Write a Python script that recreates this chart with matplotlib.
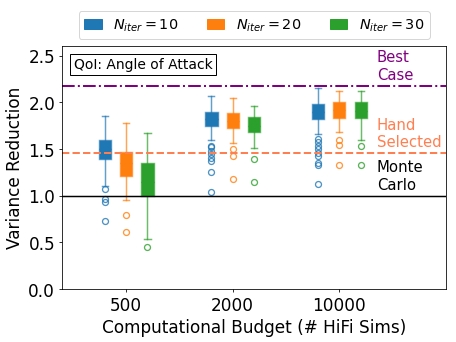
import matplotlib
matplotlib.use('Agg')
from matplotlib import pyplot as plt
from matplotlib.patches import Patch

budgets = ['500', '2000', '10000']
n_iters = [10, 20, 30]
colors = ['tab:blue', 'tab:orange', 'tab:green']

# box stats per N_iter, one entry per budget
# N_iter = 10
lo_10 = [1.10, 1.59, 1.66]
q1_10 = [1.39, 1.74, 1.82]
med_10 = [1.50, 1.82, 1.90]
q3_10 = [1.60, 1.89, 1.98]
hi_10 = [1.85, 2.07, 2.15]
fl_10 = [[1.07, 0.96, 0.93, 0.73],
         [1.53, 1.52, 1.48, 1.44, 1.40, 1.37, 1.25, 1.04],
         [1.61, 1.57, 1.53, 1.50, 1.46, 1.42, 1.35, 1.33, 1.12]]
# N_iter = 20
lo_20 = [0.95, 1.56, 1.68]
q1_20 = [1.21, 1.72, 1.83]
med_20 = [1.35, 1.80, 1.92]
q3_20 = [1.47, 1.88, 2.00]
hi_20 = [1.78, 2.05, 2.12]
fl_20 = [[0.79, 0.61],
         [1.50, 1.42, 1.18],
         [1.60, 1.54, 1.33]]
# N_iter = 30
lo_30 = [0.53, 1.51, 1.60]
q1_30 = [1.00, 1.68, 1.83]
med_30 = [1.15, 1.75, 1.91]
q3_30 = [1.35, 1.84, 2.00]
hi_30 = [1.67, 1.96, 2.12]
fl_30 = [[0.45],
         [1.39, 1.15],
         [1.53, 1.33]]

best_case = 2.177
hand_selected = 1.455
monte_carlo = 1.0

series = [(lo_10, q1_10, med_10, q3_10, hi_10, fl_10),
          (lo_20, q1_20, med_20, q3_20, hi_20, fl_20),
          (lo_30, q1_30, med_30, q3_30, hi_30, fl_30)]

plt.rcParams['font.size'] = 17
fig, ax = plt.subplots(figsize=(6.4, 4.8), dpi=71.4)
plt.subplots_adjust(left=0.136, right=0.976, bottom=0.155, top=0.863)

offsets = [-0.2, 0.0, 0.2]
for k, (lo, q1, med, q3, hi, fl) in enumerate(series):
    stats = []
    for i in range(len(budgets)):
        stats.append({'whislo': lo[i], 'q1': q1[i], 'med': med[i], 'q3': q3[i],
                      'whishi': hi[i], 'fliers': fl[i]})
    c = colors[k]
    ax.bxp(stats, positions=[i + 1 + offsets[k] for i in range(len(budgets))],
           widths=0.115, patch_artist=True, showfliers=True,
           boxprops=dict(facecolor=c, edgecolor=matplotlib.colors.to_rgba(c, 0.6), linewidth=1.5),
           whiskerprops=dict(color=c, alpha=0.7, linewidth=1.5),
           capprops=dict(color=c, alpha=0.7, linewidth=1.5),
           medianprops=dict(color=c, linewidth=1.5),
           flierprops=dict(marker='o', markerfacecolor='none', markeredgecolor=c,
                           markersize=6, markeredgewidth=1.3, alpha=0.8))

ax.axhline(best_case, color='purple', linestyle='-.', linewidth=2)
ax.axhline(hand_selected, color='coral', linestyle='--', linewidth=2)
ax.axhline(monte_carlo, color='black', linestyle='-', linewidth=1.5)
ax.text(3.35, best_case + 0.04, 'Best\nCase', color='purple', va='bottom', fontsize=15)
ax.text(3.35, hand_selected + 0.04, 'Hand\nSelected', color='coral', va='bottom', fontsize=15)
ax.text(3.35, monte_carlo + 0.04, 'Monte\nCarlo', color='black', va='bottom', fontsize=15)

ax.text(0.03, 0.955, 'QoI: Angle of Attack', transform=ax.transAxes, fontsize=14,
        va='top', ha='left', bbox=dict(boxstyle='square,pad=0.25', facecolor='white', edgecolor='black'))

ax.set_xticks([1, 2, 3])
ax.set_xticklabels(budgets)
ax.set_xlim(0.4, 4.0)
ax.set_ylim(0.0, 2.6)
ax.set_yticks([0.0, 0.5, 1.0, 1.5, 2.0, 2.5])
ax.set_xlabel('Computational Budget (# HiFi Sims)')
ax.set_ylabel('Variance Reduction')

handles = [Patch(color=colors[k], label=r'$N_{iter} = %d$' % n_iters[k]) for k in range(3)]
ax.legend(handles=handles, loc='lower center', bbox_to_anchor=(0.5, 1.0), ncol=3,
          fontsize=14.5, handlelength=1.2, handleheight=0.75, columnspacing=2.0)

fig.savefig('out.png', dpi=71.4)
